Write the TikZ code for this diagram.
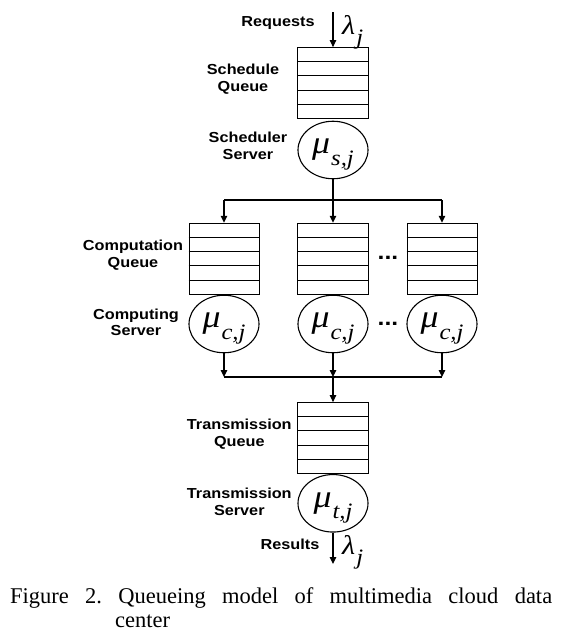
\documentclass[tikz,border=0pt]{standalone}
\usepackage{fontspec}
\usetikzlibrary{shapes.geometric,arrows.meta,calc}
\newfontfamily\labfont[FakeStretch=1.12]{Liberation Sans Bold}
\newfontfamily\capfont{Liberation Serif}
\newfontfamily\mtxt[FakeStretch=1.12]{Liberation Serif}
\newcommand{\rt}[3]{{\mtxt\itshape\fontsize{#3}{#3}\selectfont #1\kern1pt\raisebox{-0.36em}[0pt][0pt]{\fontsize{22}{22}\selectfont #2}}}
\tikzset{
  lab/.style={font=\labfont\fontsize{14.5}{16.5}\selectfont, align=center, inner sep=0pt},
  queue/.style={draw, line width=1.1pt, minimum width=70.7pt, minimum height=70.7pt, inner sep=0pt},
  server/.style={draw, line width=1.1pt, ellipse, minimum width=70pt, minimum height=57.5pt, inner sep=0pt},
  rate/.style={inner sep=0pt, anchor=west},
  conn/.style={line width=1.1pt},
  arr/.style={line width=1.1pt, -{Triangle[width=6.5pt,length=7pt]}},
  dots/.style={font=\labfont\fontsize{22}{22}\selectfont, inner sep=0pt},
  captext/.style={font=\capfont\fontsize{22.5}{24}\selectfont\frenchspacing, inner sep=0pt, anchor=base west}
}
\newcommand{\qlines}[1]{%
  \foreach \k in {1,2,3,4}{%
    \draw[line width=1.1pt] ($(#1.north west)!\k/5!(#1.south west)$) -- ($(#1.north east)!\k/5!(#1.south east)$);}}
\begin{document}
\begin{tikzpicture}[x=1pt,y=-1pt]
\useasboundingbox (0,0) rectangle (571,643);
% schedule stage
\node[queue] (sq) at (333,83) {};
\qlines{sq}
\node[server] (ss) at (333,150) {\rt{μ}{s,j}{32}};
\coordinate (in) at (333,12);
\draw[arr] (in) -- (sq);
\node[rate] (lin) at (342,25) {\rt{λ}{j}{27}};
\node[lab] (lreq) at (278,23) {Requests};
\node[lab] (lsq) at (243,79) {Schedule\\Queue};
\node[lab] (lss) at (248,146) {Scheduler\\Server};
% branch
\coordinate (top) at (333,200);
\coordinate (topL) at (224,200);
\coordinate (topR) at (442,200);
\draw[conn] (ss) -- (top);
\draw[conn] (topL) -- (topR);
% computation stage
\node[queue] (cq1) at (224.5,258.7) {};
\node[queue] (cq2) at (333,258.7) {};
\node[queue] (cq3) at (442.5,258.7) {};
\qlines{cq1}\qlines{cq2}\qlines{cq3}
\draw[arr] (topL) -- (topL |- cq1.north);
\draw[arr] (top) -- (cq2);
\draw[arr] (topR) -- (topR |- cq3.north);
\node[server] (cs1) at (224,324) {\rt{μ}{c,j}{32}};
\node[server] (cs2) at (333,324) {\rt{μ}{c,j}{32}};
\node[server] (cs3) at (442,324) {\rt{μ}{c,j}{32}};
\node[dots] (d1) at (388,258) {...};
\node[dots] (d2) at (388,324) {...};
\node[lab] (lcq) at (133,255) {Computation\\Queue};
\node[lab] (lcs) at (136,322.5) {Computing\\Server};
% merge
\coordinate (bot) at (333,377);
\coordinate (botL) at (224,377);
\coordinate (botR) at (442,377);
\draw[arr] (cs1) -- (botL);
\draw[arr] (cs2) -- (bot);
\draw[arr] (cs3) -- (botR);
\draw[conn] (botL) -- (botR);
% transmission stage
\node[queue] (tq) at (333,438) {};
\qlines{tq}
\draw[arr] (bot) -- (tq);
\node[server] (ts) at (333,503.3) {\rt{μ}{t,j}{32}};
\coordinate (out) at (333,564);
\draw[arr] (ts) -- (out);
\node[rate] (lout) at (342,545) {\rt{λ}{j}{27}};
\node[lab] (ltq) at (239.3,434) {Transmission\\Queue};
\node[lab] (lts) at (239.3,502) {Transmission\\Server};
\node[lab] (lres) at (290,544) {Results};
% caption
\node[captext] (c1) at (10,603) {\makebox[542pt][s]{Figure 2. Queueing model of multimedia cloud data}};
\node[captext] (c2) at (115,627) {center};
\end{tikzpicture}
\end{document}
